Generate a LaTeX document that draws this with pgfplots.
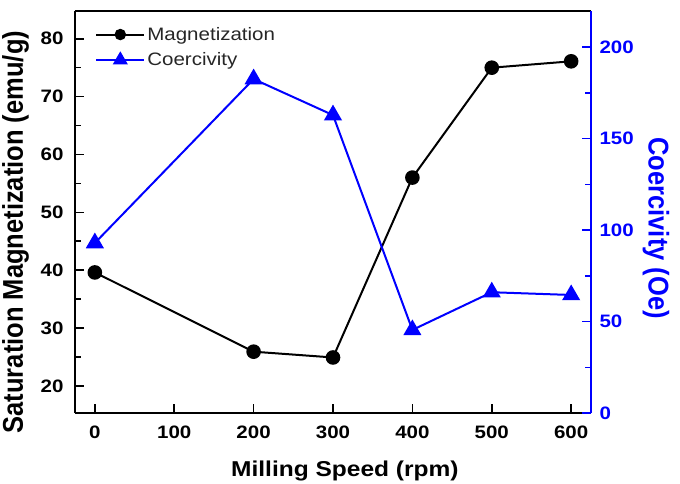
\documentclass[border=0pt]{standalone}
\usepackage{pgfplots}
\pgfplotsset{compat=1.18}
\usepackage{graphicx}
\usepackage{fontspec}
\setmainfont{Liberation Sans}[FakeStretch=1.14]
\newfontfamily\plainfont{Liberation Sans}
\definecolor{cblue}{RGB}{0,0,255}
\begin{document}
\begin{tikzpicture}
\pgfplotsset{
  common/.style={
    scale only axis, width=516pt, height=402pt,
    xmin=-25, xmax=625,
    tick align=inside,
    major tick length=9pt, minor tick length=6pt,
    /pgf/number format/assume math mode=true,
    tick label style={font=\fontsize{18}{21}\selectfont\bfseries},
  }
}
\begin{axis}[common, name=ax,
  axis line style={line width=2pt},
  every tick/.style={line width=1.5pt, black},
  ymin=15.3, ymax=84.8,
  ytick={20,30,...,80}, minor ytick={25,35,...,75},
  xtick={0,100,...,600},
  axis y line*=left, axis x line*=bottom,
  xticklabel style={yshift=-9pt},
  yticklabel style={xshift=-8pt},
  xlabel={Milling Speed (rpm)},
  ylabel={\scalebox{1}[1.12]{\plainfont\fontsize{25.5}{30}\selectfont\bfseries Saturation Magnetization (emu/g)}},
  xlabel style={font=\fontsize{21.5}{25}\selectfont\bfseries, at={(axis description cs:0.523,-0.159)}, anchor=base},
  ylabel style={at={(axis description cs:-0.115,0.45)}, anchor=center},
]
\addplot[black, line width=2pt, mark=*, mark size=6.3pt] coordinates {
(0,39.6) (200,25.9) (300,24.9) (400,56.0) (500,75.0) (600,76.1)};
\draw[line width=2pt] (rel axis cs:0,1) -- (rel axis cs:1,1);
\end{axis}
\begin{axis}[common,
  axis line style={line width=2pt, cblue},
  every tick/.style={line width=1.5pt, cblue},
  ymin=0, ymax=219.7,
  ytick={0,50,...,200}, minor ytick={25,75,...,175},
  axis y line*=right, axis x line=none,
  yticklabel style={text=cblue, xshift=5pt},
  ylabel={\scalebox{1}[1.12]{\plainfont\fontsize{25.5}{30}\selectfont\bfseries Coercivity (Oe)}},
  ylabel style={text=cblue, rotate=180, at={(axis description cs:1.126,0.46)}, anchor=center},
  legend style={draw=none, fill=none, at={(axis description cs:0.039,0.965)}, anchor=north west,
    font=\fontsize{18}{21}\selectfont, text=black!85, row sep=7pt, inner sep=0pt,
    legend cell align=left},
  legend image code/.code={\draw[mark repeat=2,mark phase=2,#1] plot coordinates {(0pt,0pt)(24pt,0pt)(48pt,0pt)};},
]
\addlegendimage{black, mark=*, mark size=4.7pt, line width=2pt}
\addlegendentry{Magnetization}
\addlegendimage{cblue, mark=triangle*, mark size=6.8pt, line width=2pt}
\addlegendentry{Coercivity}
\addplot[cblue, line width=2pt, mark=triangle*, mark size=8.5pt, forget plot] coordinates {
(0,92.9) (200,182.5) (300,162.8) (400,45.4) (500,66.0) (600,64.5)};
\end{axis}
\pgfresetboundingbox
\path ([xshift=-75pt,yshift=-70pt]ax.south west) rectangle ([xshift=89pt,yshift=11pt]ax.north east);
\end{tikzpicture}
\end{document}
